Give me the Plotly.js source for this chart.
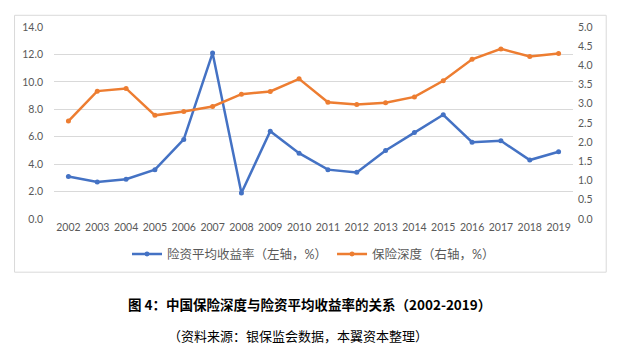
<!DOCTYPE html>
<html>
<head>
<meta charset="utf-8">
<script src="https://cdn.plot.ly/plotly-3.0.1.min.js"></script>
<style>html,body{margin:0;padding:0;background:#fff;}#chart{width:625px;height:361px;}</style>
</head>
<body>
<div id="chart"></div>
<script>
const years = ['2002','2003','2004','2005','2006','2007','2008','2009','2010','2011','2012','2013','2014','2015','2016','2017','2018','2019'];
const returnRate = [3.1, 2.7, 2.9, 3.6, 5.8, 12.1, 1.9, 6.4, 4.8, 3.6, 3.4, 5.0, 6.3, 7.6, 5.6, 5.7, 4.3, 4.9];
const insuranceDepth = [2.55, 3.33, 3.40, 2.70, 2.80, 2.93, 3.25, 3.32, 3.65, 3.04, 2.98, 3.03, 3.18, 3.60, 4.16, 4.43, 4.23, 4.31];
const seriesNames = ['险资平均收益率（左轴，%）', '保险深度（右轴，%）'];
const figTitle = '图 4：中国保险深度与险资平均收益率的关系（2002-2019）';
const figSource = '（资料来源：银保监会数据，本翼资本整理）';

const font = 'Lato, "Noto Sans CJK SC", sans-serif';
const gray = '#595959';

const traces = [
  {x: years, y: returnRate, name: seriesNames[0], type: 'scatter', mode: 'lines+markers',
   line: {color: '#4472C4', width: 2.5}, marker: {color: '#4472C4', size: 5}, yaxis: 'y'},
  {x: years, y: insuranceDepth, name: seriesNames[1], type: 'scatter', mode: 'lines+markers',
   line: {color: '#ED7D31', width: 2.5}, marker: {color: '#ED7D31', size: 5}, yaxis: 'y2'}
];

const layout = {
  width: 625, height: 361,
  margin: {l: 53.5, r: 51.5, t: 26.7, b: 141.5},
  paper_bgcolor: '#fff', plot_bgcolor: '#fff',
  font: {family: font, size: 11, color: gray},
  showlegend: true,
  legend: {orientation: 'h', x: 0.5, xanchor: 'center', y: -0.184, yanchor: 'middle',
           font: {family: font, size: 12.5, color: gray}, itemwidth: 30, tracegroupgap: 0},
  xaxis: {type: 'category', range: [-0.5, 17.5], autorange: false, automargin: false,
          showgrid: false, showline: false, zeroline: false, ticks: '',
          tickfont: {size: 10.5, color: gray}, fixedrange: true},
  yaxis: {range: [0, 14], autorange: false, automargin: false, dtick: 2, tickformat: '.1f',
          showgrid: true, gridcolor: '#d9d9d9', gridwidth: 1,
          zeroline: false, showline: false, ticks: '', tickfont: {size: 10.5, color: gray}, ticklabelstandoff: 10},
  yaxis2: {range: [0, 5], autorange: false, automargin: false, dtick: 0.5, tickformat: '.1f',
           overlaying: 'y', side: 'right', showgrid: false,
           zeroline: false, showline: false, ticks: '', tickfont: {size: 10.5, color: gray}, ticklabelstandoff: 4},
  shapes: [
    {type: 'rect', xref: 'paper', yref: 'paper', x0: -0.076, x1: 1.064, y0: -0.277, y1: 1.061,
     line: {color: '#d9d9d9', width: 1}, fillcolor: 'rgba(0,0,0,0)', layer: 'below'}
  ],
  annotations: [
    {text: '<b>' + figTitle + '</b>', xref: 'paper', yref: 'paper', x: 0.493, y: -0.443,
     xanchor: 'center', yanchor: 'middle', showarrow: false,
     font: {family: '"Noto Sans CJK SC", serif', size: 13.5, color: '#000'}},
    {text: figSource, xref: 'paper', yref: 'paper', x: 0.47, y: -0.609,
     xanchor: 'center', yanchor: 'middle', showarrow: false,
     font: {family: '"Noto Sans CJK SC", sans-serif', size: 13, color: '#000'}}
  ]
};

Plotly.newPlot('chart', traces, layout, {displayModeBar: false, staticPlot: true});
</script>
</body>
</html>
